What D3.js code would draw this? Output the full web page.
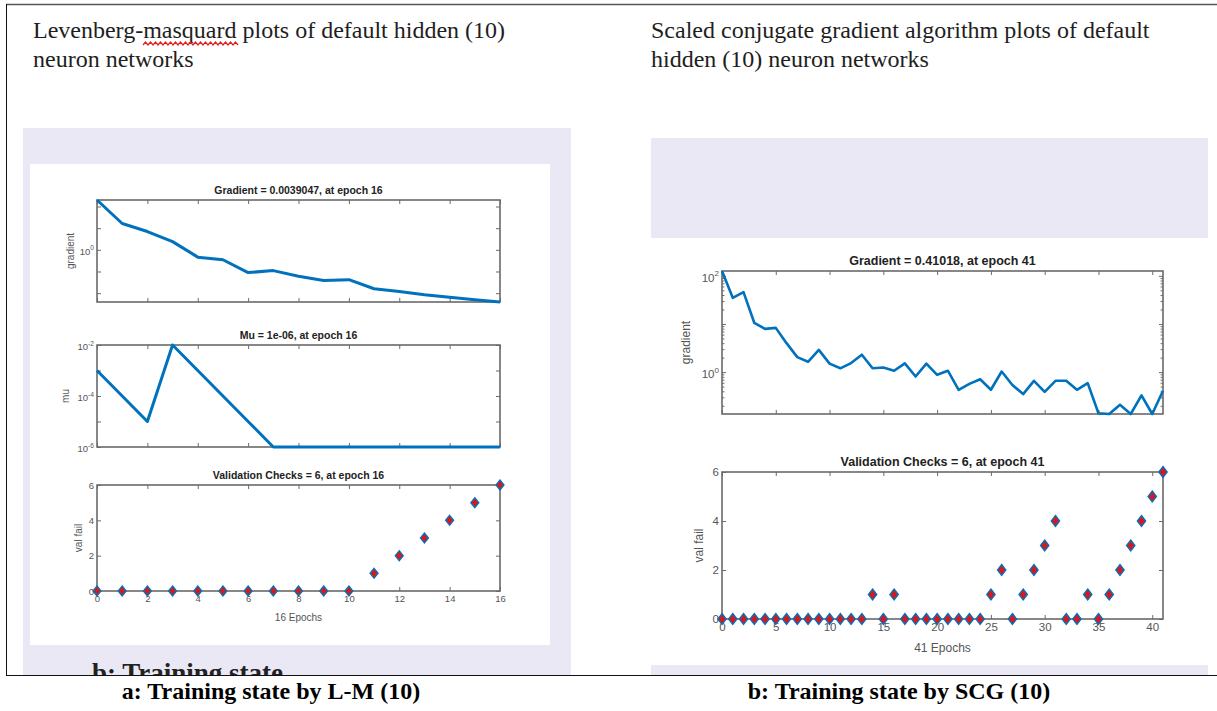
<!DOCTYPE html>
<html><head><meta charset="utf-8">
<script src="https://cdn.jsdelivr.net/npm/d3@7"></script>
<style>body{margin:0;background:#fff}svg{display:block}</style>
</head><body>
<svg id="c" width="1217" height="711"></svg>
<script>
// ---------- DATA ----------
const lmEpochs = [0,1,2,3,4,5,6,7,8,9,10,11,12,13,14,15,16];
const lmGradient = [200, 16.4, 7, 2.4, 0.46, 0.35, 0.089, 0.11, 0.06, 0.038, 0.042, 0.016, 0.012, 0.0085, 0.0064, 0.005, 0.0039047];
const lmMu = [1e-3, 1e-4, 1e-5, 1e-2, 1e-3, 1e-4, 1e-5, 1e-6, 1e-6, 1e-6, 1e-6, 1e-6, 1e-6, 1e-6, 1e-6, 1e-6, 1e-6];
const lmValFail = [0,0,0,0,0,0,0,0,0,0,0,1,2,3,4,5,6];
const lmXTicks = [0,2,4,6,8,10,12,14,16];

const scgEpochs = [0,1,2,3,4,5,6,7,8,9,10,11,12,13,14,15,16,17,18,19,20,21,22,23,24,25,26,27,28,29,30,31,32,33,34,35,36,37,38,39,40,41];
const scgGradient = [126, 35, 46, 10.6, 7.9, 8.3, 4.0, 2.05, 1.64, 2.9, 1.5, 1.2, 1.54, 2.3, 1.2, 1.25, 1.07, 1.52, 0.81, 1.5, 0.88, 1.07, 0.43, 0.57, 0.71, 0.43, 1.03, 0.54, 0.35, 0.66, 0.39, 0.66, 0.66, 0.43, 0.59, 0.14, 0.135, 0.21, 0.135, 0.33, 0.135, 0.41018];
const scgValFail = [0,0,0,0,0,0,0,0,0,0,0,0,0,0,1,0,1,0,0,0,0,0,0,0,0,1,2,0,1,2,3,4,0,0,1,0,1,2,3,4,5,6];
const scgXTicks = [0,5,10,15,20,25,30,35,40];

const valTicks = [0,2,4,6];
const lmGradDomain = [0.0039047, 200];
const lmMuDomain = [1e-6, 1e-2];
const scgGradDomain = [0.135, 126];

const titles = {
  left: ["Levenberg-masquard plots of default hidden (10)", "neuron networks"],
  right: ["Scaled conjugate gradient algorithm plots of default", "hidden (10) neuron networks"]
};
const captions = ["a: Training state by L-M (10)", "b: Training state by SCG (10)"];

// ---------- DRAW ----------
const svg = d3.select('#c');
const BLUE = '#0072BD', RED = '#d7191c', AXC = '#6a6a6a', TXT = '#555';
const SERIF = "'Liberation Serif','Times New Roman',serif";
const SANS = "'Liberation Sans',Arial,Helvetica,sans-serif";

svg.append('rect').attr('width',1217).attr('height',711).attr('fill','#fff');

// page decoration
svg.append('rect').attr('x',23).attr('y',128).attr('width',548).attr('height',547).attr('fill','#e9e8f4');
svg.append('rect').attr('x',30).attr('y',164).attr('width',520).attr('height',481).attr('fill','#fff');
svg.append('rect').attr('x',651).attr('y',138).attr('width',557).attr('height',100).attr('fill','#e9e8f4');
svg.append('rect').attr('x',651).attr('y',665).attr('width',557).attr('height',10).attr('fill','#e9e8f4');

// clipped text of the next document caption (only its top is visible)
svg.append('clipPath').attr('id','clipb').append('rect').attr('x',23).attr('y',600).attr('width',548).attr('height',75);
svg.append('text').attr('clip-path','url(#clipb)').attr('x',92).attr('y',682)
  .attr('font-family',SERIF).attr('font-size',27).attr('font-weight','bold').attr('fill','#222')
  .text('b: Training state');

svg.append('line').attr('x1',6).attr('x2',1217).attr('y1',4.5).attr('y2',4.5).attr('stroke','#555').attr('stroke-width',1.5);
svg.append('line').attr('x1',6.5).attr('x2',6.5).attr('y1',4).attr('y2',676).attr('stroke','#111').attr('stroke-width',1);
svg.append('line').attr('x1',6).attr('x2',1217).attr('y1',675.5).attr('y2',675.5).attr('stroke','#111').attr('stroke-width',1);

// headings
function heading(lines, x) {
  lines.forEach((t,i) => svg.append('text').attr('x',x).attr('y',38 + i*29)
    .attr('font-family',SERIF).attr('font-size',24).attr('fill','#1e1e1e').text(t));
}
heading(titles.left, 33);
heading(titles.right, 651);

// red squiggle under "masquard"
(function(){
  let p = 'M143,45';
  for (let x = 143, k = 0; x < 238; x += 2.5, k++) p += ` L${x+2.5},${k%2 ? 45 : 42}`;
  svg.append('path').attr('d',p).attr('fill','none').attr('stroke','#e02020').attr('stroke-width',1.2);
})();

// captions
svg.append('text').attr('x',271).attr('y',699).attr('text-anchor','middle')
  .attr('font-family',SERIF).attr('font-size',24).attr('font-weight','bold').attr('fill','#000').text(captions[0]);
svg.append('text').attr('x',899).attr('y',699).attr('text-anchor','middle')
  .attr('font-family',SERIF).attr('font-size',24).attr('font-weight','bold').attr('fill','#000').text(captions[1]);

// ---------- subplot helper ----------
function subplot(o) {
  const g = svg.append('g');
  const x = d3.scaleLinear().domain(o.xDomain).range([o.x0, o.x1]);
  const y = (o.log ? d3.scaleLog() : d3.scaleLinear()).domain(o.yDomain).range([o.y1, o.y0]);
  const tk = o.tick || 4;
  const fs = o.fs;

  const bottom = g.append('g').attr('transform',`translate(0,${o.y1})`)
    .call(d3.axisBottom(x).tickValues(o.xTicks).tickSizeInner(-tk).tickSizeOuter(0).tickPadding(4)
      .tickFormat(o.xLabels ? d3.format('d') : () => ''));
  const top = g.append('g').attr('transform',`translate(0,${o.y0})`)
    .call(d3.axisTop(x).tickValues(o.xTicks).tickSizeInner(-tk).tickSizeOuter(0).tickFormat(() => ''));
  const left = g.append('g').attr('transform',`translate(${o.x0},0)`)
    .call(d3.axisLeft(y).tickValues(o.yTicks).tickSizeInner(-tk).tickSizeOuter(0).tickPadding(3)
      .tickFormat(d => d));
  const right = g.append('g').attr('transform',`translate(${o.x1},0)`)
    .call(d3.axisRight(y).tickValues(o.yTicks).tickSizeInner(-tk).tickSizeOuter(0).tickFormat(() => ''));
  const axes = [bottom, top, left, right];
  if (o.minor) {
    axes.push(g.append('g').attr('transform',`translate(${o.x0},0)`)
      .call(d3.axisLeft(y).tickValues(o.minor).tickSizeInner(-tk*0.6).tickSizeOuter(0).tickFormat(() => '')));
    axes.push(g.append('g').attr('transform',`translate(${o.x1},0)`)
      .call(d3.axisRight(y).tickValues(o.minor).tickSizeInner(-tk*0.6).tickSizeOuter(0).tickFormat(() => '')));
  }
  axes.forEach(a => {
    a.select('.domain').remove();
    a.selectAll('line').attr('stroke', AXC).attr('stroke-width', 1);
    a.selectAll('text').attr('font-family', SANS).attr('font-size', fs).attr('fill', TXT);
  });

  if (o.log) {
    left.selectAll('.tick text').each(function(d) {
      const e = Math.round(Math.log10(d));
      const t = d3.select(this).text(null);
      if (o.yLabelExps.includes(e)) {
        t.append('tspan').text('10');
        t.append('tspan').attr('dy', -fs*0.45).attr('font-size', fs*0.7).text(e);
      }
    });
    left.selectAll('.tick text').attr('dy', '0.45em');
  }

  g.append('rect').attr('x',o.x0).attr('y',o.y0).attr('width',o.x1-o.x0).attr('height',o.y1-o.y0)
    .attr('fill','none').attr('stroke',AXC).attr('stroke-width',1.6);

  g.append('text').attr('x',(o.x0+o.x1)/2).attr('y',o.y0-6).attr('text-anchor','middle')
    .attr('font-family',SANS).attr('font-weight','bold').attr('font-size',o.tfs).attr('fill','#222').text(o.title);
  g.append('text').attr('transform',`translate(${o.x0 - o.ylabOff},${(o.y0+o.y1)/2}) rotate(-90)`)
    .attr('text-anchor','middle').attr('font-family',SANS).attr('font-size',o.lfs).attr('fill',TXT).text(o.ylab);
  if (o.xlab) g.append('text').attr('x',(o.x0+o.x1)/2).attr('y',o.y1 + o.xlabOff).attr('text-anchor','middle')
    .attr('font-family',SANS).attr('font-size',o.lfs).attr('fill',TXT).text(o.xlab);

  if (o.line) {
    g.append('path').datum(o.ys).attr('fill','none').attr('stroke',BLUE).attr('stroke-width',o.lw)
      .attr('stroke-linejoin','round')
      .attr('d', d3.line().x((d,i) => x(o.xs[i])).y(d => y(d)));
  } else {
    const w = o.mw, h = o.mh;
    g.selectAll('path.mk').data(o.ys).join('path').attr('class','mk')
      .attr('d', (d,i) => { const cx = x(o.xs[i]), cy = y(d);
        return `M${cx},${cy-h}L${cx+w},${cy}L${cx},${cy+h}L${cx-w},${cy}Z`; })
      .attr('fill', RED).attr('stroke', BLUE).attr('stroke-width', 1.3);
  }
  return g;
}

function minorTicks(lo, hi) {
  const out = [];
  for (let e = Math.floor(Math.log10(lo)); e <= Math.ceil(Math.log10(hi)); e++)
    for (let m = 2; m <= 9; m++) { const v = m * Math.pow(10, e); if (v >= lo && v <= hi) out.push(v); }
  return out;
}

// ----- Left (L-M) -----
subplot({ x0:97, x1:500, y0:200, y1:302, xDomain:[0,16], xTicks:lmXTicks, xLabels:false,
  log:true, yDomain:lmGradDomain, yTicks:[1e-2,1e-1,1,10,100], yLabelExps:[0],
  xs:lmEpochs, ys:lmGradient, line:true, lw:3,
  title:`Gradient = ${lmGradient[lmGradient.length-1]}, at epoch 16`, ylab:'gradient', ylabOff:23,
  fs:9.5, tfs:10.5, lfs:10 });
subplot({ x0:97, x1:500, y0:345, y1:447, xDomain:[0,16], xTicks:lmXTicks, xLabels:false,
  log:true, yDomain:lmMuDomain, yTicks:[1e-6,1e-5,1e-4,1e-3,1e-2], yLabelExps:[-2,-4,-6],
  xs:lmEpochs, ys:lmMu, line:true, lw:3,
  title:'Mu = 1e-06, at epoch 16', ylab:'mu', ylabOff:28, fs:9.5, tfs:10.5, lfs:10 });
subplot({ x0:97, x1:500, y0:485, y1:591, xDomain:[0,16], xTicks:lmXTicks, xLabels:true,
  log:false, yDomain:[0,6], yTicks:valTicks,
  xs:lmEpochs, ys:lmValFail, line:false, mw:4, mh:5,
  title:'Validation Checks = 6, at epoch 16', ylab:'val fail', ylabOff:15, xlab:'16 Epochs', xlabOff:30,
  fs:9.5, tfs:10.5, lfs:10 });

// ----- Right (SCG) -----
subplot({ x0:722, x1:1163, y0:271, y1:414, xDomain:[0,41], xTicks:scgXTicks, xLabels:false,
  log:true, yDomain:scgGradDomain, yTicks:[1,10,100], yLabelExps:[0,2], minor:minorTicks(scgGradDomain[0], scgGradDomain[1]),
  xs:scgEpochs, ys:scgGradient, line:true, lw:2.6,
  title:`Gradient = ${scgGradient[scgGradient.length-1]}, at epoch 41`, ylab:'gradient', ylabOff:32,
  fs:11.5, tfs:12.5, lfs:12 });
subplot({ x0:722, x1:1163, y0:472, y1:619, xDomain:[0,41], xTicks:scgXTicks, xLabels:true,
  log:false, yDomain:[0,6], yTicks:valTicks,
  xs:scgEpochs, ys:scgValFail, line:false, mw:4.2, mh:5.5,
  title:'Validation Checks = 6, at epoch 41', ylab:'val fail', ylabOff:19, xlab:'41 Epochs', xlabOff:33,
  fs:11.5, tfs:12.5, lfs:12 });
</script>
</body></html>
